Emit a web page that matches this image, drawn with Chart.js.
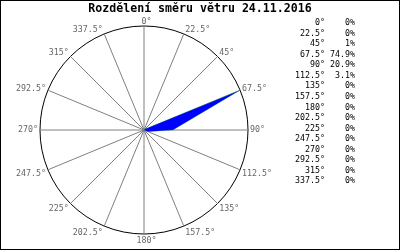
<!DOCTYPE html>
<html>
<head>
<meta charset="utf-8">
<script src="https://cdn.jsdelivr.net/npm/chart.js@4.4.1/dist/chart.umd.min.js"></script>
<style>
html,body{margin:0;padding:0;background:#fff;}
canvas{display:block;}
</style>
</head>
<body>
<canvas id="c" width="400" height="250"></canvas>
<script>
const titleText = 'Rozdělení směru větru 24.11.2016';
const categories = ['0°','22.5°','45°','67.5°','90°','112.5°','135°','157.5°','180°','202.5°','225°','247.5°','270°','292.5°','315°','337.5°'];
const values = [0,0,1,74.9,20.9,3.1,0,0,0,0,0,0,0,0,0,0];
const percentLabels = ['0%','0%','1%','74.9%','20.9%','3.1%','0%','0%','0%','0%','0%','0%','0%','0%','0%','0%'];

const maxVal = Math.max(...values);
const monoFont = '"DejaVu Sans Mono", "Liberation Mono", monospace';

const decorPlugin = {
  id: 'decor',
  beforeDraw(chart) {
    const ctx = chart.ctx;
    ctx.save();
    ctx.fillStyle = '#fff';
    ctx.fillRect(0, 0, chart.width, chart.height);
    ctx.restore();
  },
  afterDraw(chart) {
    const ctx = chart.ctx;
    const scale = chart.scales.r;
    ctx.save();
    // border
    ctx.strokeStyle = '#000';
    ctx.lineWidth = 1;
    ctx.strokeRect(0.5, 0.5, chart.width - 1, chart.height - 1);
    // title
    ctx.fillStyle = '#000';
    ctx.font = 'bold 11.6px ' + monoFont;
    ctx.textAlign = 'center';
    ctx.textBaseline = 'middle';
    ctx.fillText(titleText, 200, 9);
    // point labels
    ctx.font = '8.3px ' + monoFont;
    ctx.fillStyle = '#666666';
    const h = 7;
    categories.forEach((lab, i) => {
      const p = scale.getPointPosition(i, scale.drawingArea + 1);
      const a = i * Math.PI / 8;
      const s = Math.sin(a), c = Math.cos(a);
      let y = p.y - (h / 2) * c + (c < -0.01 ? 2.5 : 0);
      const w = ctx.measureText(lab).width;
      let x;
      if (s > 0.01) x = p.x + 1;
      else if (s < -0.01) x = p.x - 1 - w;
      else {
        const wn = ctx.measureText(lab.replace('°', '')).width;
        x = p.x - wn / 2;
      }
      ctx.textAlign = 'left';
      ctx.textBaseline = 'middle';
      ctx.fillText(lab, x, y);
    });
    // table
    ctx.fillStyle = '#000';
    ctx.textBaseline = 'middle';
    categories.forEach((lab, i) => {
      const y = 23 + i * 10.55;
      ctx.textAlign = 'right';
      ctx.fillText(lab, 325, y);
      ctx.fillText(percentLabels[i], 355, y);
    });
    ctx.restore();
  }
};

new Chart(document.getElementById('c'), {
  type: 'radar',
  data: {
    labels: categories,
    datasets: [{
      data: values,
      backgroundColor: '#0000ff',
      borderColor: 'rgba(0,220,0,0.45)',
      borderWidth: 0.5,
      pointRadius: 0,
      pointHoverRadius: 0,
      fill: true,
      tension: 0
    }]
  },
  options: {
    responsive: false,
    animation: false,
    devicePixelRatio: 1,
    layout: { padding: { left: 40, right: 152, top: 26, bottom: 16 } },
    plugins: {
      legend: { display: false },
      tooltip: { enabled: false },
      title: { display: false }
    },
    scales: {
      r: {
        min: 0,
        max: maxVal,
        ticks: { display: false, stepSize: maxVal },
        grid: {
          circular: true,
          lineWidth: 1,
          color: (ctx) => (ctx.tick && ctx.tick.value >= maxVal - 1e-9) ? '#000' : 'rgba(0,0,0,0)'
        },
        angleLines: { color: '#808080', lineWidth: 1 },
        pointLabels: { display: false }
      }
    }
  },
  plugins: [decorPlugin]
});
</script>
</body>
</html>
